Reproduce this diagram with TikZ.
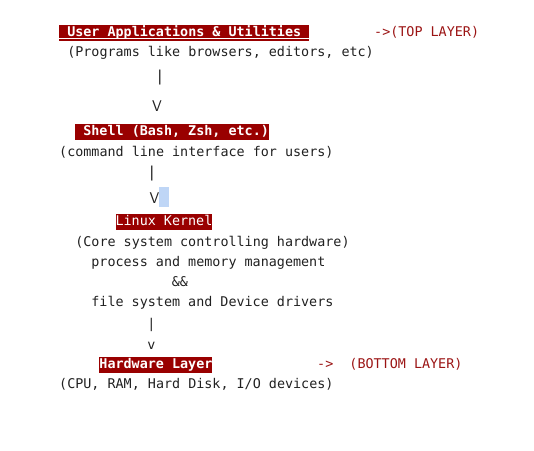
\documentclass[tikz,border=0pt]{standalone}
\usepackage{fontspec}
\setmonofont{DejaVu Sans Mono}
\definecolor{hlred}{HTML}{990000}
\definecolor{lbl}{HTML}{9B1414}
\definecolor{ink}{HTML}{202020}
\definecolor{selblue}{HTML}{BFD6F6}
\tikzset{
  txt/.style={anchor=base west,inner sep=0pt,text=ink,font=\ttfamily\fontsize{13.4}{16}\selectfont},
  hl/.style={anchor=base west,inner xsep=0pt,inner ysep=0pt,fill=hlred,text=white,
    text height=11.5pt,text depth=4.5pt,font=\ttfamily\bfseries\fontsize{13.4}{16}\selectfont},
  hlreg/.style={hl,font=\ttfamily\fontsize{13.4}{16}\selectfont},
  tag/.style={txt,text=lbl},
  bigarrow/.style={anchor=base,inner sep=0pt,text=ink,font=\ttfamily\fontsize{15}{18}\selectfont},
  bigvee/.style={anchor=base,inner sep=0pt,text=ink,font=\sffamily\fontsize{15.5}{18}\selectfont},
  smallarrow/.style={anchor=base,inner sep=0pt,text=ink,font=\ttfamily\fontsize{13.4}{16}\selectfont},
}
\begin{document}
\begin{tikzpicture}[x=1pt,y=-1pt]
\useasboundingbox (0,0) rectangle (534,450);
% layer 1
\node[hl,inner xsep=8.05pt] (user) at (59,36) {User Applications \& Utilities};
\draw[white,line width=0.9pt] ([yshift=-2pt]user.base west) -- ([yshift=-2pt]user.base east);
\node[tag] (top) at (374,36) {->(TOP LAYER)};
\node[txt] (prog) at (67.05,56) {(Programs like browsers, editors, etc)};
\node[bigarrow] (bar1) at (160,81) {|};
\node[bigvee] (v1) at (157,111) {V};
% layer 2
\node[hl] (shell) at (75.1,135) {\hspace*{8.05pt}Shell (Bash, Zsh, etc.)};
\node[txt] (cmd) at (59,156) {(command line interface for users)};
\node[bigarrow] (bar2) at (152,177) {|};
\fill[selblue] (159,187) rectangle (169,207);
\node[bigvee] (v2) at (154.5,203) {V};
% layer 3
\node[hlreg] (kernel) at (115.35,225) {Linux Kernel};
\node[txt] (core) at (75.1,246) {(Core system controlling hardware)};
\node[txt] (proc) at (91.2,266) {process and memory management};
\node[txt] (and) at (171.7,286) {\&\&};
\node[txt] (file) at (91.2,306) {file system and Device drivers};
\node[smallarrow] (bar3) at (151.5,328.5) {|};
\node[smallarrow] (v3) at (151.5,349) {v};
% layer 4
\node[hl] (hw) at (99.25,368) {Hardware Layer};
\node[tag] (bottom) at (317,368) {->\ \ (BOTTOM LAYER)};
\node[txt] (cpu) at (59,388) {(CPU, RAM, Hard Disk, I/O devices)};
\end{tikzpicture}
\end{document}
